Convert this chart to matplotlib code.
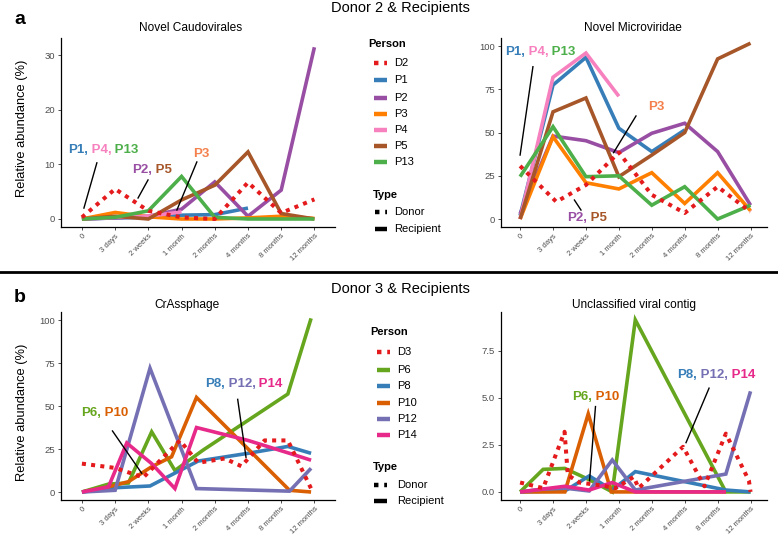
import matplotlib.pyplot as plt
from matplotlib.lines import Line2D

plt.rcParams['font.family'] = ['Liberation Sans', 'DejaVu Sans']

W, H = 778, 537
time_labels = ["0", "3 days", "2 weeks", "1 month", "2 months", "4 months", "8 months", "12 months"]

# ---- Donor 2 & recipients ----
d2_persons = ["D2", "P1", "P2", "P3", "P4", "P5", "P13"]
d2_colors = ["#E41A1C", "#377EB8", "#984EA3", "#FF7F00", "#F781BF", "#A65628", "#4DAF4A"]

cau_x = [
    [0, 1, 2, 3, 4, 5, 6, 7],
    [0, 1, 2, 3, 4, 5],
    [0, 1, 2, 3, 4, 5, 6, 7],
    [0, 1, 2, 3, 4, 5, 6, 7],
    [0, 1, 2, 3],
    [0, 1, 2, 3, 4, 5, 6, 7],
    [0, 1, 2, 3, 4, 5, 6, 7],
]
cau_y = [
    [0.3, 5.5, 1.5, 0.3, 0.0, 6.7, 1.1, 3.6],
    [0.0, 0.2, 0.3, 0.7, 0.8, 2.0],
    [0.0, 0.2, 0.5, 1.8, 6.8, 0.5, 5.3, 31.5],
    [0.0, 1.2, 0.4, 0.0, 0.0, 0.2, 0.5, 0.1],
    [0.0, 0.3, 0.5, 1.3],
    [0.0, 0.5, 0.0, 3.5, 6.2, 12.3, 1.0, 0.0],
    [0.0, 0.3, 1.5, 7.8, 0.3, 0.0, 0.0, 0.0],
]

mic_x = [
    [0, 1.1, 2, 3, 4, 5, 6, 7],
    [0, 1, 2, 3, 4, 5],
    [0, 1, 2, 3, 4, 5, 6, 7],
    [0, 1, 2, 3, 4, 5, 6, 7],
    [0, 1, 2, 3],
    [0, 1, 2, 3, 4, 5, 6, 7],
    [0, 1, 2, 3, 4, 5, 6, 7],
]
mic_y = [
    [30.7, 10.0, 19.7, 38.5, 14.0, 3.5, 18.7, 4.2],
    [2.0, 77.5, 93.5, 52.5, 39.0, 51.5],
    [3.0, 48.0, 45.3, 38.4, 49.6, 55.4, 39.0, 8.0],
    [0.0, 47.6, 21.0, 17.4, 26.8, 9.0, 26.8, 4.8],
    [0.0, 82.0, 96.0, 71.0],
    [0.0, 62.0, 70.0, 24.5, 37.0, 50.0, 92.6, 101.7],
    [24.5, 53.4, 24.5, 25.0, 8.0, 18.7, 0.0, 8.0],
]

# ---- Donor 3 & recipients ----
d3_persons = ["D3", "P6", "P8", "P10", "P12", "P14"]
d3_colors = ["#E41A1C", "#66A61E", "#377EB8", "#D95F02", "#7570B3", "#E7298A"]

cra_x = [
    [0, 1, 1.85, 2.95, 3.5, 4.3, 4.8, 5.5, 6.2, 6.9],
    [0, 0.8, 1.4, 2.1, 2.8, 3.65, 6.2, 6.9],
    [0, 1, 2.05, 3, 3.5, 5, 6.2, 6.9],
    [0, 0.8, 1.4, 2.1, 2.7, 3.45, 6.25, 6.9],
    [0, 1, 2.05, 3.45, 6.25, 6.9],
    [0, 0.8, 1.35, 2.1, 2.8, 3.45, 5, 6.25, 6.9],
]
cra_y = [
    [16.5, 14.0, 8.5, 30.0, 17.0, 19.5, 15.0, 30.0, 30.0, 2.0],
    [0.0, 4.6, 5.2, 35.0, 12.5, 24.4, 57.0, 101.0],
    [0.0, 2.5, 3.5, 13.0, 18.0, 22.5, 26.5, 22.5],
    [0.0, 3.0, 6.0, 14.7, 20.5, 55.0, 1.0, 0.0],
    [0.0, 1.0, 72.0, 2.0, 0.5, 13.8],
    [0.0, 3.0, 28.5, 16.5, 2.0, 37.5, 30.0, 22.5, 18.5],
]

unc_x = [
    [0, 0.7, 1.35, 1.45, 1.8, 2.45, 2.9, 3.45, 3.6, 4.95, 5.6, 6.25, 6.95, 7.0],
    [0, 0.7, 1.36, 2.1, 2.8, 3.5, 6.25, 7],
    [0, 1.36, 2.1, 2.8, 3.5, 6.25, 7],
    [0, 1.36, 2.07, 2.77, 3.5, 6.25],
    [0, 0.7, 1.36, 2.1, 2.8, 3.5, 6.25, 7],
    [0, 1.36, 2.1, 2.8, 3.5, 6.25],
]
unc_y = [
    [0.5, 0.2, 3.2, 0.9, 0.5, 0.35, 0.2, 0.8, 0.2, 2.4, 0.3, 3.1, 0.6, 0.0],
    [0.0, 1.2, 1.25, 0.65, 0.0, 9.15, 0.0, 0.0],
    [0.0, 0.05, 0.85, 0.1, 1.08, 0.1, 0.0],
    [0.0, 0.0, 4.15, 0.0, 0.0, 0.0],
    [0.0, 0.15, 0.2, 0.05, 1.7, 0.1, 0.95, 5.35],
    [0.0, 0.3, 0.1, 0.5, 0.0, 0.0],
]


def box(x0, y0, x1, y1):
    return [x0 / W, 1 - y1 / H, (x1 - x0) / W, (y1 - y0) / H]


def fx(px):
    return px / W


def fy(py):
    return 1 - py / H


DONOR_LS = (0, (1, 1.3))


def draw_panel(ax, xs, ys, colors, xlim, ylim, yticks, yfmt):
    # recipients first, donor on top
    for i in range(1, len(xs)):
        ax.plot(xs[i], ys[i], color=colors[i], lw=2.6, solid_capstyle='butt', solid_joinstyle='miter')
    ax.plot(xs[0], ys[0], color=colors[0], lw=2.9, linestyle=DONOR_LS, dash_capstyle='butt')
    ax.set_xlim(*xlim)
    ax.set_ylim(*ylim)
    ax.set_xticks(range(len(time_labels)))
    ax.set_xticklabels(time_labels, rotation=45, ha='right', va='top', rotation_mode='anchor',
                       fontsize=5.5, color='#4d4d4d')
    ax.set_yticks(yticks)
    ax.set_yticklabels([yfmt.format(v) for v in yticks], fontsize=6.8, color='#4d4d4d')
    ax.tick_params(length=2.5, width=0.6, color='#333333', pad=2)
    ax.tick_params(axis='x', pad=1.5)
    for s in ['top', 'right']:
        ax.spines[s].set_visible(False)
    for s in ['left', 'bottom']:
        ax.spines[s].set_linewidth(0.9)


def multicolor_label(ax, x, y, parts, colors, size=9.5):
    t = ax.text(x, y, parts[0], color=colors[0], fontsize=size, fontweight='bold', va='center')
    for part, col in zip(parts[1:], colors[1:]):
        t = ax.annotate(part, xy=(1, 0), xycoords=t, va='bottom', color=col,
                        fontsize=size, fontweight='bold')


def pointer(ax, p0, p1):
    ax.plot([p0[0], p1[0]], [p0[1], p1[1]], color='black', lw=1.0)


def draw_legend(fig, persons, colors, title_xy, key_x, label_x, ys, type_xy, type_key_x, type_ys):
    fig.text(fx(title_xy[0]), fy(title_xy[1]), "Person", fontsize=8, fontweight='bold', va='center')
    for p, c, y in zip(persons, colors, ys):
        ls = DONOR_LS if p.startswith("D") else '-'
        fig.add_artist(Line2D([fx(key_x[0]), fx(key_x[1])], [fy(y), fy(y)], color=c, lw=3.2,
                              linestyle=ls, dash_capstyle='butt', solid_capstyle='butt'))
        fig.text(fx(label_x), fy(y), p, fontsize=8, va='center')
    fig.text(fx(type_xy[0]), fy(type_xy[1]), "Type", fontsize=8, fontweight='bold', va='center')
    for lab, ls, y in zip(["Donor", "Recipient"], [DONOR_LS, '-'], type_ys):
        fig.add_artist(Line2D([fx(type_key_x[0]), fx(type_key_x[1])], [fy(y), fy(y)], color='black',
                              lw=3.2, linestyle=ls, dash_capstyle='butt', solid_capstyle='butt'))
        fig.text(fx(label_x), fy(y), lab, fontsize=8, va='center')


fig = plt.figure(figsize=(7.78, 5.37), dpi=100)

ax_cau = fig.add_axes(box(61, 38, 335, 227))
ax_mic = fig.add_axes(box(501, 38, 767, 227))
ax_cra = fig.add_axes(box(61, 312, 335, 500))
ax_unc = fig.add_axes(box(501, 312, 767, 500))

draw_panel(ax_cau, cau_x, cau_y, d2_colors, (-0.63, 7.62), (-1.47, 33.2), [0, 10, 20, 30], "{:g}")
draw_panel(ax_mic, mic_x, mic_y, d2_colors, (-0.58, 7.5), (-4.6, 104.7), [0, 25, 50, 75, 100], "{:g}")
draw_panel(ax_cra, cra_x, cra_y, d3_colors, (-0.63, 7.62), (-4.65, 104.7), [0, 25, 50, 75, 100], "{:g}")
draw_panel(ax_unc, unc_x, unc_y, d3_colors, (-0.58, 7.5), (-0.43, 9.57), [0, 2.5, 5.0, 7.5], "{:.1f}")

# annotations, panel a
c2 = dict(zip(d2_persons, d2_colors))
multicolor_label(ax_cau, -0.42, 12.7, ["P1,", " P4,", " P13"], [c2["P1"], c2["P4"], c2["P13"]])
pointer(ax_cau, (0.45, 10.3), (0.06, 2.0))
multicolor_label(ax_cau, 1.5, 9.0, ["P2,", " P5"], [c2["P2"], c2["P5"]])
pointer(ax_cau, (1.99, 7.16), (1.69, 3.85))
multicolor_label(ax_cau, 3.34, 11.9, ["P3"], ["#F4804E"])
pointer(ax_cau, (3.46, 10.46), (2.86, 1.65))

multicolor_label(ax_mic, -0.46, 96.6, ["P1,", " P4,", " P13"], [c2["P1"], c2["P4"], c2["P13"]])
pointer(ax_mic, (0.39, 88.1), (0.0, 37.0))
multicolor_label(ax_mic, 3.89, 64.8, ["P3"], ["#F4804E"])
pointer(ax_mic, (3.52, 59.6), (2.84, 38.4))
multicolor_label(ax_mic, 1.43, 0.6, ["P2,", " P5"], [c2["P2"], c2["P5"]])
pointer(ax_mic, (1.65, 11.0), (1.85, 5.2))

# annotations, panel b
c3 = dict(zip(d3_persons, d3_colors))
multicolor_label(ax_cra, -0.03, 45.9, ["P6,", " P10"], [c3["P6"], c3["P10"]])
pointer(ax_cra, (0.92, 35.5), (1.8, 10.9))
multicolor_label(ax_cra, 3.7, 62.8, ["P8,", " P12,", " P14"], [c3["P8"], c3["P12"], c3["P14"]])
pointer(ax_cra, (4.69, 53.9), (4.94, 20.2))

multicolor_label(ax_unc, 1.57, 5.05, ["P6,", " P10"], [c3["P6"], c3["P10"]])
pointer(ax_unc, (2.29, 4.54), (2.11, 0.6))
multicolor_label(ax_unc, 4.77, 6.22, ["P8,", " P12,", " P14"], [c3["P8"], c3["P12"], c3["P14"]])
pointer(ax_unc, (5.74, 5.52), (5.04, 2.62))

# titles and labels
fig.text(fx(400), fy(8), "Donor 2 & Recipients", ha='center', va='center', fontsize=10.5)
fig.text(fx(400), fy(289), "Donor 3 & Recipients", ha='center', va='center', fontsize=10.5)
fig.text(fx(14), fy(20), "a", fontsize=14, fontweight='bold', va='center')
fig.text(fx(14), fy(297), "b", fontsize=14, fontweight='bold', va='center')
fig.text(fx(191), fy(28), "Novel Caudovirales", ha='center', va='center', fontsize=8.6)
fig.text(fx(633), fy(28), "Novel Microviridae", ha='center', va='center', fontsize=8.6)
fig.text(fx(187), fy(305), "CrAssphage", ha='center', va='center', fontsize=8.6)
fig.text(fx(634), fy(305), "Unclassified viral contig", ha='center', va='center', fontsize=8.6)
fig.text(fx(22), fy(128), "Relative abundance (%)", rotation=90, ha='center', va='center', fontsize=9.3)
fig.text(fx(22), fy(412), "Relative abundance (%)", rotation=90, ha='center', va='center', fontsize=9.3)

# separator between panels
fig.add_artist(Line2D([0, 1], [fy(272), fy(272)], color='black', lw=2))

draw_legend(fig, d2_persons, d2_colors, (368, 44), (374, 387), 394,
            [63, 80, 98, 114, 130, 146, 162], (373, 195), (375, 387), [212, 229])
draw_legend(fig, d3_persons, d3_colors, (370, 332), (377, 390), 397,
            [352, 370, 386, 403, 419, 435], (373, 467), (374, 387), [485, 501])

fig.savefig("out.png", dpi=100)
